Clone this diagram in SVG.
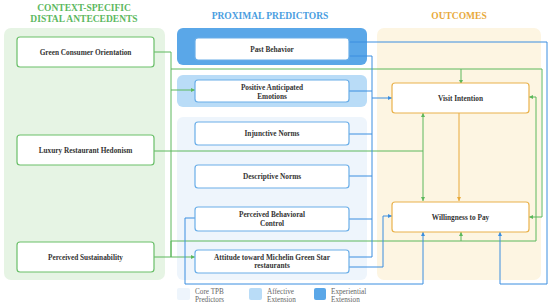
<svg xmlns="http://www.w3.org/2000/svg" width="550" height="306" viewBox="0 0 550 306">
<defs>
<style>
.ttl{font-family:"Liberation Serif",serif;font-weight:bold;font-size:9.5px;text-anchor:middle}
.lbl{font-family:"Liberation Serif",serif;font-weight:bold;font-size:7.3px;fill:#333;text-anchor:middle}
.leg{font-family:"Liberation Serif",serif;font-size:7.2px;fill:#666}
.gbox{fill:#fff;stroke:#6abf69;stroke-width:1.2}
.bbox{fill:#fff;stroke:#6aaee8;stroke-width:1.2}
.obox{fill:#fff;stroke:#e9b24c;stroke-width:1.2}
.cg{fill:none;stroke:#5cb85c;stroke-width:1}
.cb{fill:none;stroke:#3a8ee0;stroke-width:1}
.co{fill:none;stroke:#e8a93a;stroke-width:1}
</style>
<marker id="ag" viewBox="0 0 6 6" refX="6" refY="3" markerWidth="4" markerHeight="4" markerUnits="userSpaceOnUse" orient="auto"><path d="M0,0L6,3L0,6z" fill="#5cb85c"/></marker>
<marker id="ab" viewBox="0 0 6 6" refX="6" refY="3" markerWidth="4" markerHeight="4" markerUnits="userSpaceOnUse" orient="auto"><path d="M0,0L6,3L0,6z" fill="#3a8ee0"/></marker>
<marker id="ao" viewBox="0 0 6 6" refX="6" refY="3" markerWidth="4" markerHeight="4" markerUnits="userSpaceOnUse" orient="auto"><path d="M0,0L6,3L0,6z" fill="#e8a93a"/></marker>
</defs>
<rect width="550" height="306" fill="#fff"/>
<g id="background">
<rect x="4" y="28" width="161" height="252" rx="7" fill="#e6f4e4"/>
<rect x="377" y="28" width="164" height="252" rx="7" fill="#fdf5e2"/>
<rect x="177" y="117" width="190" height="163" rx="6" fill="#eef5fc"/>
<rect x="177" y="75" width="190" height="32" rx="6" fill="#b9dcf7"/>
<rect x="177" y="28" width="190" height="37" rx="6" fill="#5aa7e8"/>
<text class="ttl" x="84" y="11" fill="#5cb860">CONTEXT-SPECIFIC</text>
<text class="ttl" x="84" y="22" fill="#5cb860">DISTAL ANTECEDENTS</text>
<text class="ttl" x="270" y="19" fill="#4a9de0">PROXIMAL PREDICTORS</text>
<text class="ttl" x="459" y="19" fill="#e8a93a">OUTCOMES</text>
</g>
<g id="legend">
<rect x="177" y="288" width="13" height="12" rx="2" fill="#eef5fc"/>
<text class="leg" x="195" y="294">Core TPB</text>
<text class="leg" x="195" y="302">Predictors</text>
<rect x="249" y="288" width="13" height="12" rx="2" fill="#b9dcf7"/>
<text class="leg" x="267" y="294">Affective</text>
<text class="leg" x="267" y="302">Extension</text>
<rect x="314" y="288" width="12" height="12" rx="2" fill="#5aa7e8"/>
<text class="leg" x="331" y="294">Experiential</text>
<text class="leg" x="331" y="302">Extension</text>
</g>
<g id="connectors">
<path class="cg" d="M154,52H171V257H195" marker-end="url(#ag)"/>
<path class="cg" d="M171,90H195" marker-end="url(#ag)"/>
<path class="cg" d="M171,69H542V217H529" marker-end="url(#ag)"/>
<path class="cg" d="M461,69V84" marker-end="url(#ag)"/>
<path class="cg" d="M154,151H423V113" marker-end="url(#ag)"/>
<path class="cg" d="M423,151V201" marker-end="url(#ag)"/>
<path class="cg" d="M154,257H171V241H536V97H529" marker-end="url(#ag)"/>
<path class="cg" d="M461,241V232" marker-end="url(#ag)"/>
<path class="co" d="M459,113V201" marker-end="url(#ao)"/>
<path class="cb" d="M349,42H547V284H500V232" marker-end="url(#ab)"/>
<path class="cb" d="M349,56H372V257H349"/>
<path class="cb" d="M349,91H372M349,134H372M349,176H372M349,219H372"/>
<path class="cb" d="M372,98H392" marker-end="url(#ab)"/>
<path class="cb" d="M349,267H383V216H392" marker-end="url(#ab)"/>
<path class="cb" d="M195,218H185V284H423V232" marker-end="url(#ab)"/>
</g>
<g id="green-consumer-orientation">
<rect class="gbox" x="17" y="37" width="137" height="30" rx="3"/>
<text class="lbl" x="85.5" y="54.5">Green Consumer Orientation</text>
</g>
<g id="luxury-restaurant-hedonism">
<rect class="gbox" x="17" y="135" width="137" height="30" rx="3"/>
<text class="lbl" x="85.5" y="152.5">Luxury Restaurant Hedonism</text>
</g>
<g id="perceived-sustainability">
<rect class="gbox" x="17" y="242" width="137" height="30" rx="3"/>
<text class="lbl" x="85.5" y="259.5">Perceived Sustainability</text>
</g>
<g id="past-behavior">
<rect class="bbox" x="195" y="38" width="154" height="22" rx="3"/>
<text class="lbl" x="272" y="51.5">Past Behavior</text>
</g>
<g id="positive-anticipated-emotions">
<rect class="bbox" x="195" y="80" width="154" height="22" rx="3"/>
<text class="lbl" x="272" y="89.5">Positive Anticipated</text>
<text class="lbl" x="272" y="98.5">Emotions</text>
</g>
<g id="injunctive-norms">
<rect class="bbox" x="195" y="122" width="154" height="23" rx="3"/>
<text class="lbl" x="272" y="136">Injunctive Norms</text>
</g>
<g id="descriptive-norms">
<rect class="bbox" x="195" y="165" width="154" height="23" rx="3"/>
<text class="lbl" x="272" y="179">Descriptive Norms</text>
</g>
<g id="perceived-behavioral-control">
<rect class="bbox" x="195" y="207" width="154" height="24" rx="3"/>
<text class="lbl" x="272" y="217">Perceived Behavioral</text>
<text class="lbl" x="272" y="225.5">Control</text>
</g>
<g id="attitude">
<rect class="bbox" x="195" y="250" width="154" height="23" rx="3"/>
<text class="lbl" x="272" y="259.5">Attitude toward Michelin Green Star</text>
<text class="lbl" x="272" y="268">restaurants</text>
</g>
<g id="visit-intention">
<rect class="obox" x="392" y="83" width="137" height="30" rx="3"/>
<text class="lbl" x="460.5" y="100.5">Visit Intention</text>
</g>
<g id="willingness-to-pay">
<rect class="obox" x="392" y="202" width="137" height="30" rx="3"/>
<text class="lbl" x="460.5" y="219.5">Willingness to Pay</text>
</g>
</svg>
